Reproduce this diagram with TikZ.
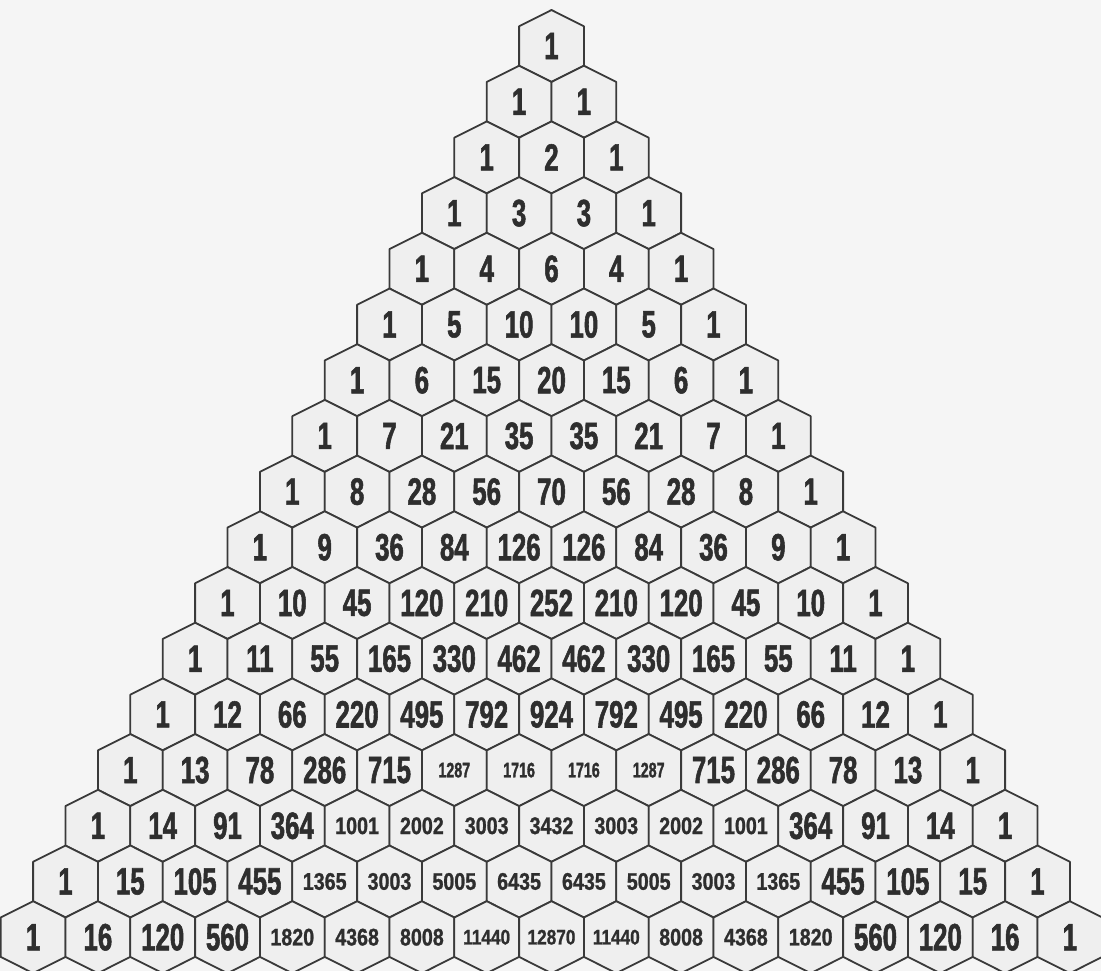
\documentclass[tikz,border=0pt]{standalone}
\usepackage{fontspec}
\newfontfamily\hexbig[FakeStretch=0.68,FakeBold=1.4]{Liberation Sans Bold}
\newfontfamily\hexwide[FakeStretch=0.82,FakeBold=1]{Liberation Sans Bold}
\definecolor{paper}{HTML}{F5F5F5}
\definecolor{cellfill}{HTML}{EFEFEF}
\definecolor{ink}{HTML}{2E2E2E}
\definecolor{edge}{HTML}{3A3A3A}
\tikzset{
  hexcell/.style={draw=edge, line width=1.8pt, fill=cellfill, line join=round},
  numtext/.style={text=ink, inner sep=0pt}
}
\newcount\binomval
\def\numsize{\ifnum\v>9999 \hexwide\fontsize{21}{21}\else\ifnum\v>999 \ifnum\row=13 \hexbig\fontsize{21}{21}\else\hexwide\fontsize{24}{24}\fi\else\hexbig\fontsize{38}{38}\fi\fi\selectfont}
\begin{document}
\begin{tikzpicture}[x=1pt,y=-1pt]
\fill[paper] (0,0) rectangle (1101,971);
\useasboundingbox (0,0) rectangle (1101,971);
\def\hw{32.4}
\def\tip{36}
\def\side{19.7}
\foreach \row in {0,...,16}{
  \global\binomval=1
  \foreach \k in {0,...,\row}{
    \edef\v{\the\binomval}
    \pgfmathsetmacro\cx{551.5+(\k-\row/2)*64.8}
    \pgfmathsetmacro\cy{46+\row*55.7}
    \draw[hexcell] (\cx,\cy-\tip) -- (\cx+\hw,\cy-\side) -- (\cx+\hw,\cy+\side)
      -- (\cx,\cy+\tip) -- (\cx-\hw,\cy+\side) -- (\cx-\hw,\cy-\side) -- cycle;
    \node[numtext] (c\row-\k) at (\cx,\cy) {\numsize\v};
    \global\binomval=\numexpr\binomval*(\row-\k)/(\k+1)\relax
  }
}
\end{tikzpicture}
\end{document}
